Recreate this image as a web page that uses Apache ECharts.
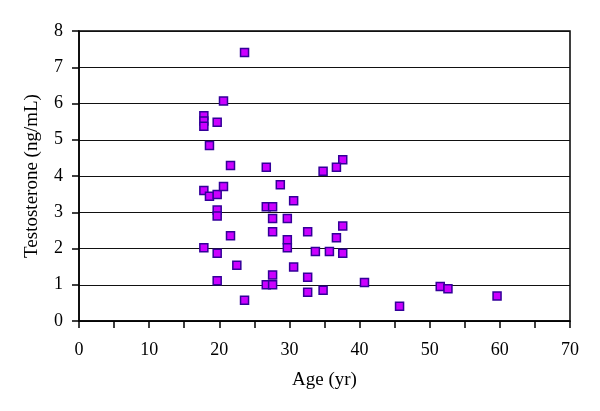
<!DOCTYPE html>
<html>
<head>
<meta charset="utf-8">
<script src="https://cdn.jsdelivr.net/npm/echarts@6/dist/echarts.min.js"></script>
<style>html,body{margin:0;padding:0;background:#fff}#c{width:600px;height:411px}</style>
</head>
<body>
<div id="c"></div>
<script>
const ages = [23.6,20.6,17.8,17.8,17.8,19.7,18.6,21.6,26.7,28.7,17.8,18.6,19.7,20.6,30.6,26.7,27.6,27.6,29.7,19.7,19.7,27.6,21.6,29.7,29.7,17.8,19.7,22.5,30.6,27.6,19.7,26.7,27.6,23.6,37.6,32.6,36.7,33.7,35.7,37.6,32.6,40.7,51.5,52.6,32.6,34.8,59.6,45.7,37.6,36.7,34.8];
const testosterone = [7.41,6.07,5.66,5.52,5.37,5.48,4.84,4.29,4.24,3.76,3.60,3.44,3.49,3.71,3.32,3.15,3.15,2.83,2.83,3.06,2.90,2.46,2.35,2.24,2.02,2.02,1.87,1.54,1.49,1.27,1.11,1.00,1.00,0.57,2.62,2.46,2.30,1.92,1.92,1.87,1.21,1.06,0.95,0.89,0.79,0.85,0.69,0.41,4.45,4.24,4.13];
const xTicks = {min:0, max:70, interval:10};
const yTicks = {min:0, max:8, interval:1};
const points = ages.map((a,i)=>[a, testosterone[i]]);
const font = 'Liberation Serif';
const chart = echarts.init(document.getElementById('c'));
chart.setOption({
  animation:false,
  grid:{left:79,right:30,top:31,bottom:90,show:true,borderColor:'#000',borderWidth:1.5,backgroundColor:'transparent'},
  xAxis:{type:'value',min:xTicks.min,max:xTicks.max,interval:xTicks.interval,
    name:'Age (yr)',nameLocation:'middle',nameGap:50,
    nameTextStyle:{fontFamily:font,fontSize:19,color:'#000'},
    axisLine:{show:true,onZero:false,lineStyle:{color:'#000',width:1.5}},
    axisTick:{show:true,length:7,lineStyle:{color:'#000',width:1.5}},
    minorTick:{show:true,splitNumber:2,length:7,lineStyle:{color:'#000',width:1.5}},
    axisLabel:{fontFamily:font,fontSize:18,color:'#000',margin:20},
    splitLine:{show:false}},
  yAxis:{type:'value',min:yTicks.min,max:yTicks.max,interval:yTicks.interval,
    name:'Testosterone (ng/mL)',nameLocation:'middle',nameGap:37,
    nameTextStyle:{fontFamily:font,fontSize:19,color:'#000'},
    axisLine:{show:true,lineStyle:{color:'#000',width:1.5}},
    axisTick:{show:true,length:7,lineStyle:{color:'#000',width:1.5}},
    axisLabel:{fontFamily:font,fontSize:18,color:'#000',margin:16},
    splitLine:{show:true,lineStyle:{color:'#111',width:1.2}}},
  series:[{type:'scatter',data:points,symbol:'rect',symbolSize:8,
    itemStyle:{color:'#cc00ff',borderColor:'#330099',borderWidth:1.5,opacity:1}}]
});
</script>
</body>
</html>
